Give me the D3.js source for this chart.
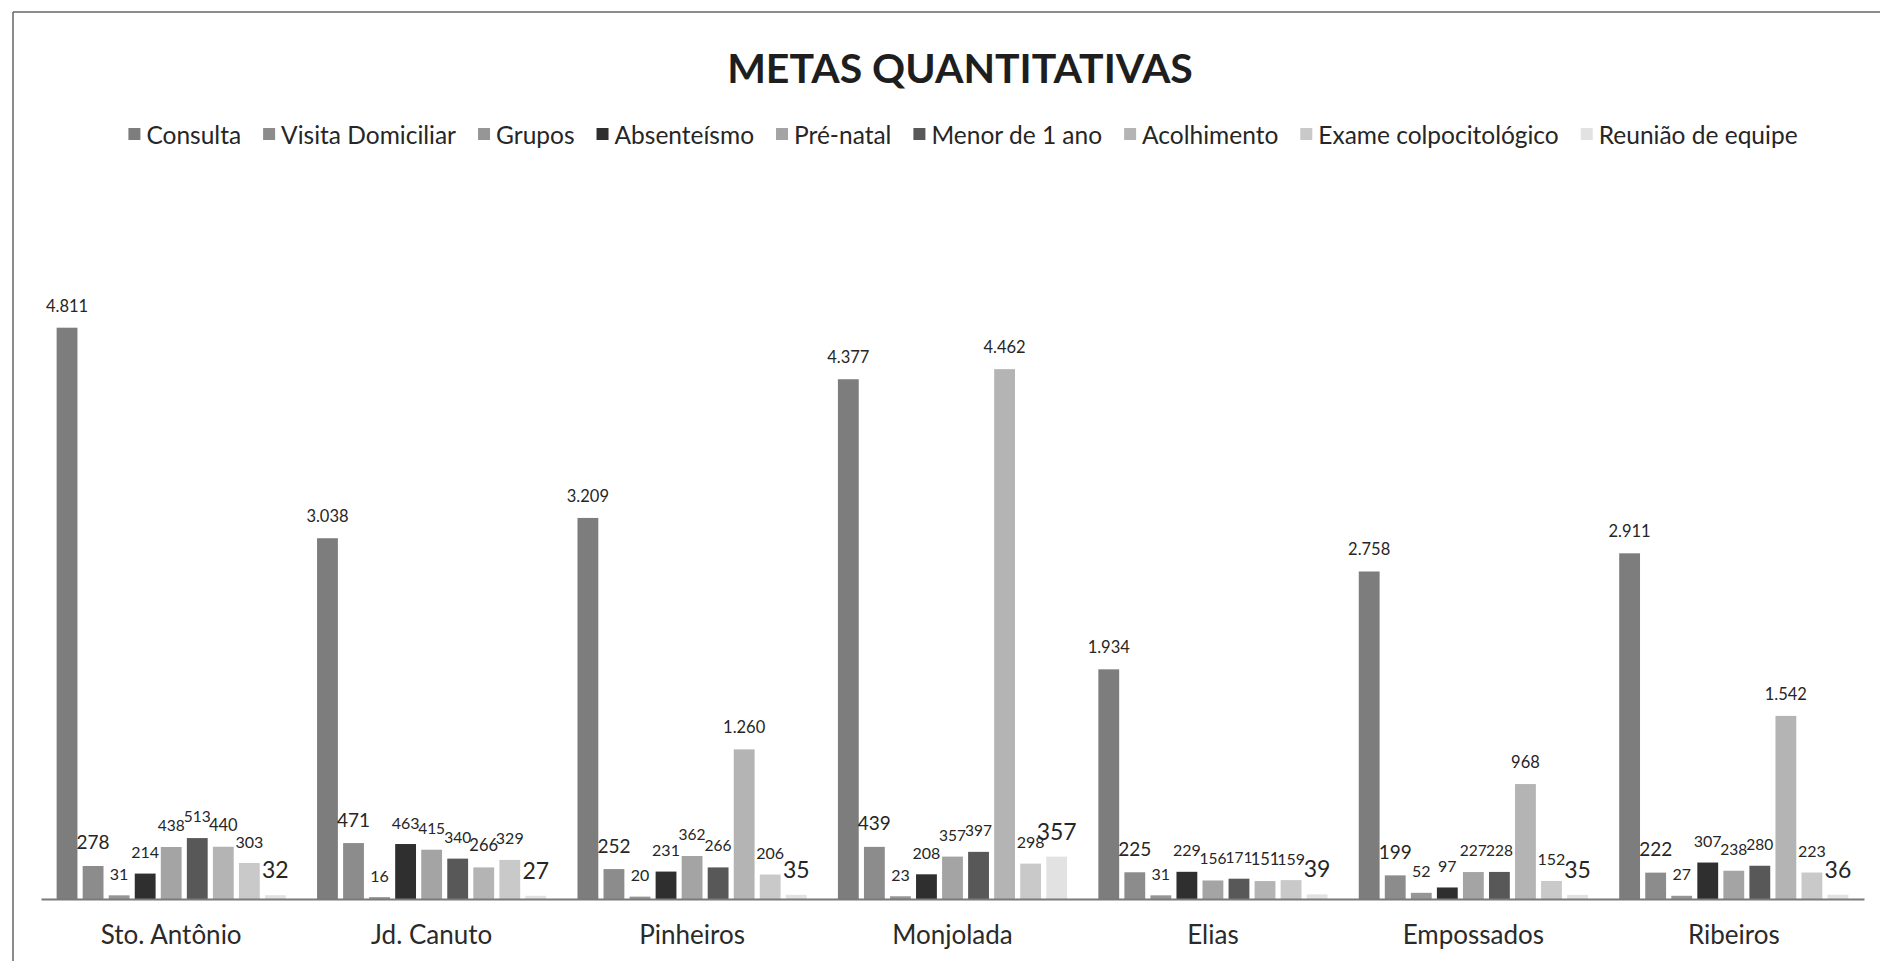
<!DOCTYPE html>
<html>
<head>
<meta charset="utf-8">
<script src="https://cdn.jsdelivr.net/npm/d3@7"></script>
<style>
  html, body { margin: 0; padding: 0; background: #fff; }
  svg { display: block; }
  text { font-family: Lato, "Open Sans", sans-serif; }
</style>
</head>
<body>
<svg id="chart" width="1880" height="961"></svg>
<script>
// ---- DATA ----
const title = "METAS QUANTITATIVAS";
const categories = ["Sto. Antônio", "Jd. Canuto", "Pinheiros", "Monjolada", "Elias", "Empossados", "Ribeiros"];
const seriesNames = ["Consulta", "Visita Domiciliar", "Grupos", "Absenteísmo", "Pré-natal", "Menor de 1 ano", "Acolhimento", "Exame colpocitológico", "Reunião de equipe"];
const consulta     = [4811, 3038, 3209, 4377, 1934, 2758, 2911];
const visita       = [278, 471, 252, 439, 225, 199, 222];
const grupos       = [31, 16, 20, 23, 31, 52, 27];
const absenteismo  = [214, 463, 231, 208, 229, 97, 307];
const preNatal     = [438, 415, 362, 357, 156, 227, 238];
const menor1ano    = [513, 340, 266, 397, 171, 228, 280];
const acolhimento  = [440, 266, 1260, 4462, 151, 968, 1542];
const exame        = [303, 329, 206, 298, 159, 152, 223];
const reuniao      = [32, 27, 35, 357, 39, 35, 36];
const seriesValues = [consulta, visita, grupos, absenteismo, preNatal, menor1ano, acolhimento, exame, reuniao];

// ---- STYLE ----
const colors = ["#7d7d7d", "#8c8c8c", "#969696", "#2f2f2f", "#a4a4a4", "#585858", "#b4b4b4", "#c9c9c9", "#e2e2e2"];
const labelSizes = [16.5, 19, 16, 16, 15.5, 15.5, 16.5, 16, 23];
const labelGap   = [22, 24, 22, 22, 22, 22, 22, 22, 26];

const svg = d3.select("#chart");
const fmt = d3.formatLocale({decimal: ",", thousands: ".", grouping: [3], currency: ["R$", ""]}).format(",d");

// frame
svg.append("line").attr("x1", 13).attr("x2", 1880).attr("y1", 12).attr("y2", 12)
  .attr("stroke", "#666").attr("stroke-width", 1.5);
svg.append("line").attr("x1", 13).attr("x2", 13).attr("y1", 12).attr("y2", 961)
  .attr("stroke", "#666").attr("stroke-width", 1.5);

// title
svg.append("text").attr("x", 960).attr("y", 83).attr("text-anchor", "middle")
  .attr("font-size", 41).attr("font-weight", 700).attr("fill", "#1e1e1e").text(title);

// scales
const x0 = d3.scaleBand().domain(categories).range([41, 1864]).padding(0);
const x1 = d3.scaleBand().domain(d3.range(seriesNames.length))
  .range([0, x0.bandwidth()]).paddingInner(0.2).paddingOuter(0.6);
const y = d3.scaleLinear().domain([0, 6000]).range([899, 186.5]);

// bars
const g = svg.append("g");
seriesValues.forEach((vals, si) => {
  g.selectAll(null).data(vals).enter().append("rect")
    .attr("x", (d, ci) => x0(categories[ci]) + x1(si))
    .attr("width", x1.bandwidth())
    .attr("y", d => y(d))
    .attr("height", d => y(0) - y(d))
    .attr("fill", colors[si]);
});

// axis line
const xAxis = d3.axisBottom(x0).tickSize(0).tickPadding(0);
const ax = svg.append("g").attr("transform", `translate(0,${y(0)})`).call(xAxis);
ax.select(".domain").attr("stroke", "#7a7a7a").attr("stroke-width", 2);
ax.selectAll(".tick text").attr("font-size", 26).attr("fill", "#2a2a2a")
  .attr("dy", null).attr("y", 45);

// data labels
seriesValues.forEach((vals, si) => {
  g.selectAll(null).data(vals).enter().append("text")
    .attr("x", (d, ci) => x0(categories[ci]) + x1(si) + x1.bandwidth() / 2)
    .attr("y", d => y(d) - labelGap[si])
    .attr("dominant-baseline", "central")
    .attr("text-anchor", "middle")
    .attr("font-size", labelSizes[si])
    .attr("fill", "#262626")
    .text(d => fmt(d));
});

// legend
const legend = svg.append("g");
const legFont = 24.5, sq = 12, gapSq = 6, gapItem = 22;
let lx = 0;
seriesNames.forEach((name, i) => {
  const it = legend.append("g");
  it.append("rect").attr("x", 0).attr("y", -sq / 2).attr("width", sq).attr("height", sq).attr("fill", colors[i]);
  const t = it.append("text").attr("x", sq + gapSq).attr("y", 0).attr("dominant-baseline", "central")
    .attr("font-size", legFont).attr("fill", "#262626").text(name);
  const w = sq + gapSq + t.node().getComputedTextLength();
  it.attr("transform", `translate(${lx},0)`);
  lx += w + gapItem;
});
const total = lx - gapItem;
legend.attr("transform", `translate(${963 - total / 2},134)`);
</script>
</body>
</html>
